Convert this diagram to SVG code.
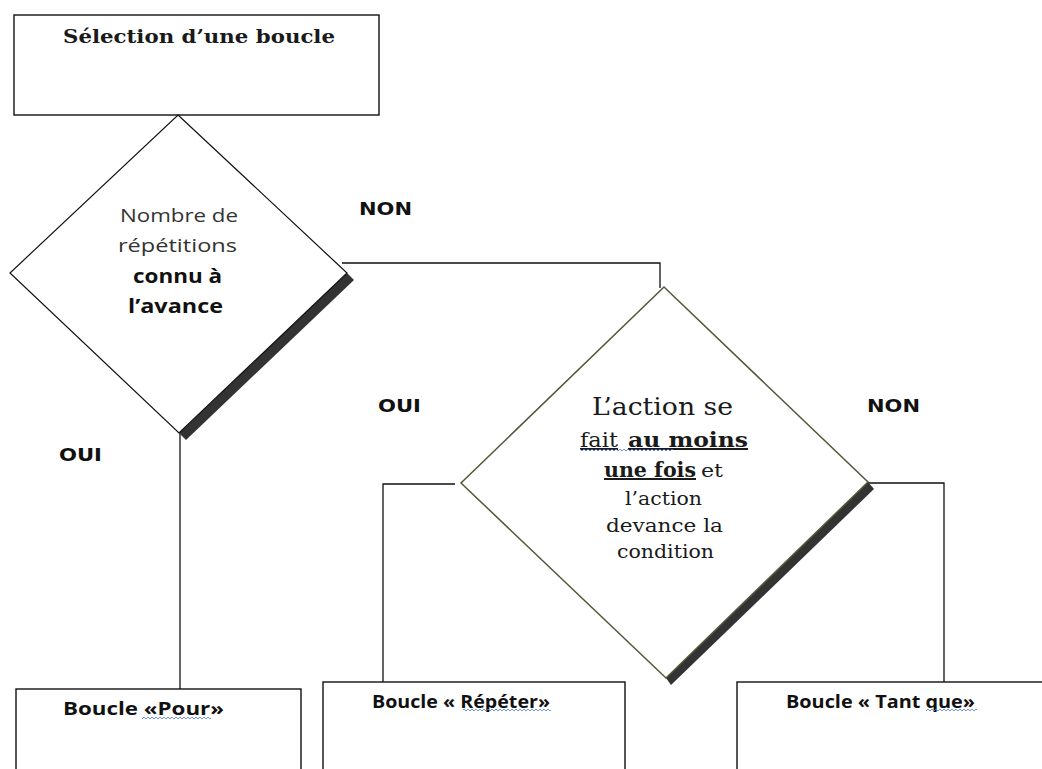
<svg xmlns="http://www.w3.org/2000/svg" width="1042" height="769" viewBox="0 0 1042 769">
  <defs>
    <!-- spell-check style wavy underline -->
    <pattern id="wave" width="4" height="4" patternUnits="userSpaceOnUse">
      <path d="M0 1 L2 3 L4 1" fill="none" stroke="#4a78d8" stroke-width="0.8"/>
    </pattern>
  </defs>
  <style>
    .box { fill: #fff; stroke: #111; stroke-width: 1.4; }
    .dia1 { fill: #fff; stroke: #111; stroke-width: 1.2; }
    .dia2 { fill: #fff; stroke: #56563a; stroke-width: 1.5; }
    .shadow { fill: #333; }
    .conn { fill: none; stroke: #111; stroke-width: 1.3; }
    .lbl { font-family: "DejaVu Sans", sans-serif; font-weight: bold; font-size: 17px; fill: #111; }
    .sans { font-family: "Open Sans", "Liberation Sans", sans-serif; font-size: 19px; }
    .sansb { font-family: "Open Sans", "Liberation Sans", sans-serif; font-size: 18px; font-weight: bold; fill: #111; }
    .serif { font-family: "DejaVu Serif", "Liberation Serif", serif; fill: #1a1a1a; }
    .wave { fill: url(#wave); }
  </style>

  <rect width="1042" height="769" fill="#fff"/>

  <!-- start box -->
  <g id="start">
    <rect class="box" x="14" y="15" width="365" height="100"/>
    <text class="serif" x="63" y="43" font-size="19" font-weight="bold" fill="#111" textLength="272" lengthAdjust="spacingAndGlyphs">Sélection d’une boucle</text>
  </g>

  <!-- connectors -->
  <g id="connectors">
    <polyline class="conn" points="342,263 660,263 660,288"/>
    <polyline class="conn" points="180,433 180,689"/>
    <polyline class="conn" points="455,484 383,484 383,682"/>
    <polyline class="conn" points="868,483 944,483 944,682"/>
    <text class="lbl" x="359" y="215" textLength="53" lengthAdjust="spacingAndGlyphs">NON</text>
    <text class="lbl" x="59" y="461" textLength="43" lengthAdjust="spacingAndGlyphs">OUI</text>
    <text class="lbl" x="378" y="412" textLength="43" lengthAdjust="spacingAndGlyphs">OUI</text>
    <text class="lbl" x="867" y="412" textLength="53" lengthAdjust="spacingAndGlyphs">NON</text>
  </g>

  <!-- decision: count known in advance -->
  <g id="decision-count">
    <polygon class="shadow" points="347,273 354,280 186,440 179,433"/>
    <polygon class="dia1" points="178,115 347,273 179,433 10,273"/>
    <text class="sans" x="120" y="222" fill="#333" textLength="118" lengthAdjust="spacingAndGlyphs">Nombre de</text>
    <text class="sans" x="118" y="252" fill="#333" textLength="119" lengthAdjust="spacingAndGlyphs">répétitions</text>
    <text class="sans" x="133" y="283" font-weight="bold" fill="#111" textLength="89" lengthAdjust="spacingAndGlyphs">connu à</text>
    <text class="sans" x="128" y="313" font-weight="bold" fill="#111" textLength="95" lengthAdjust="spacingAndGlyphs">l’avance</text>
  </g>

  <!-- decision: action at least once -->
  <g id="decision-action">
    <polygon class="shadow" points="868,482 874,489 671,685 666,678"/>
    <polygon class="dia2" points="664,287 868,482 666,678 461,483"/>
    <text class="serif" x="592" y="415" font-size="24" textLength="141" lengthAdjust="spacingAndGlyphs">L’action se</text>
    <text class="serif" x="580" y="447" font-size="20" text-decoration="underline" textLength="38" lengthAdjust="spacingAndGlyphs">fait</text>
    <text class="serif" x="628" y="447" font-size="20" font-weight="bold" fill="#111" text-decoration="underline" textLength="120" lengthAdjust="spacingAndGlyphs">au moins</text>
    <rect class="wave" x="580" y="448" width="93" height="4"/>
    <text class="serif" x="604" y="477" font-size="20" font-weight="bold" fill="#111" text-decoration="underline" textLength="92" lengthAdjust="spacingAndGlyphs">une fois</text>
    <text class="serif" x="701" y="477" font-size="19" textLength="22" lengthAdjust="spacingAndGlyphs">et</text>
    <text class="serif" x="625" y="505" font-size="19" textLength="77" lengthAdjust="spacingAndGlyphs">l’action</text>
    <text class="serif" x="606" y="532" font-size="19" textLength="117" lengthAdjust="spacingAndGlyphs">devance  la</text>
    <text class="serif" x="617" y="558" font-size="19" textLength="97" lengthAdjust="spacingAndGlyphs">condition</text>
  </g>

  <!-- result boxes -->
  <g id="loop-pour">
    <rect class="box" x="16" y="689" width="285" height="100"/>
    <text class="sansb" x="63" y="715" textLength="161" lengthAdjust="spacingAndGlyphs">Boucle «Pour»</text>
    <rect class="wave" x="142" y="716" width="69" height="4"/>
  </g>

  <g id="loop-repeter">
    <rect class="box" x="323" y="682" width="302" height="100"/>
    <text class="sansb" x="372" y="708" font-size="17" textLength="178" lengthAdjust="spacingAndGlyphs">Boucle « Répéter»</text>
    <rect class="wave" x="463" y="708" width="88" height="4"/>
  </g>

  <g id="loop-tantque">
    <rect class="box" x="737" y="682" width="320" height="100"/>
    <text class="sansb" x="786" y="708" font-size="17" textLength="189" lengthAdjust="spacingAndGlyphs">Boucle « Tant que»</text>
    <rect class="wave" x="926" y="708" width="51" height="4"/>
  </g>
</svg>
